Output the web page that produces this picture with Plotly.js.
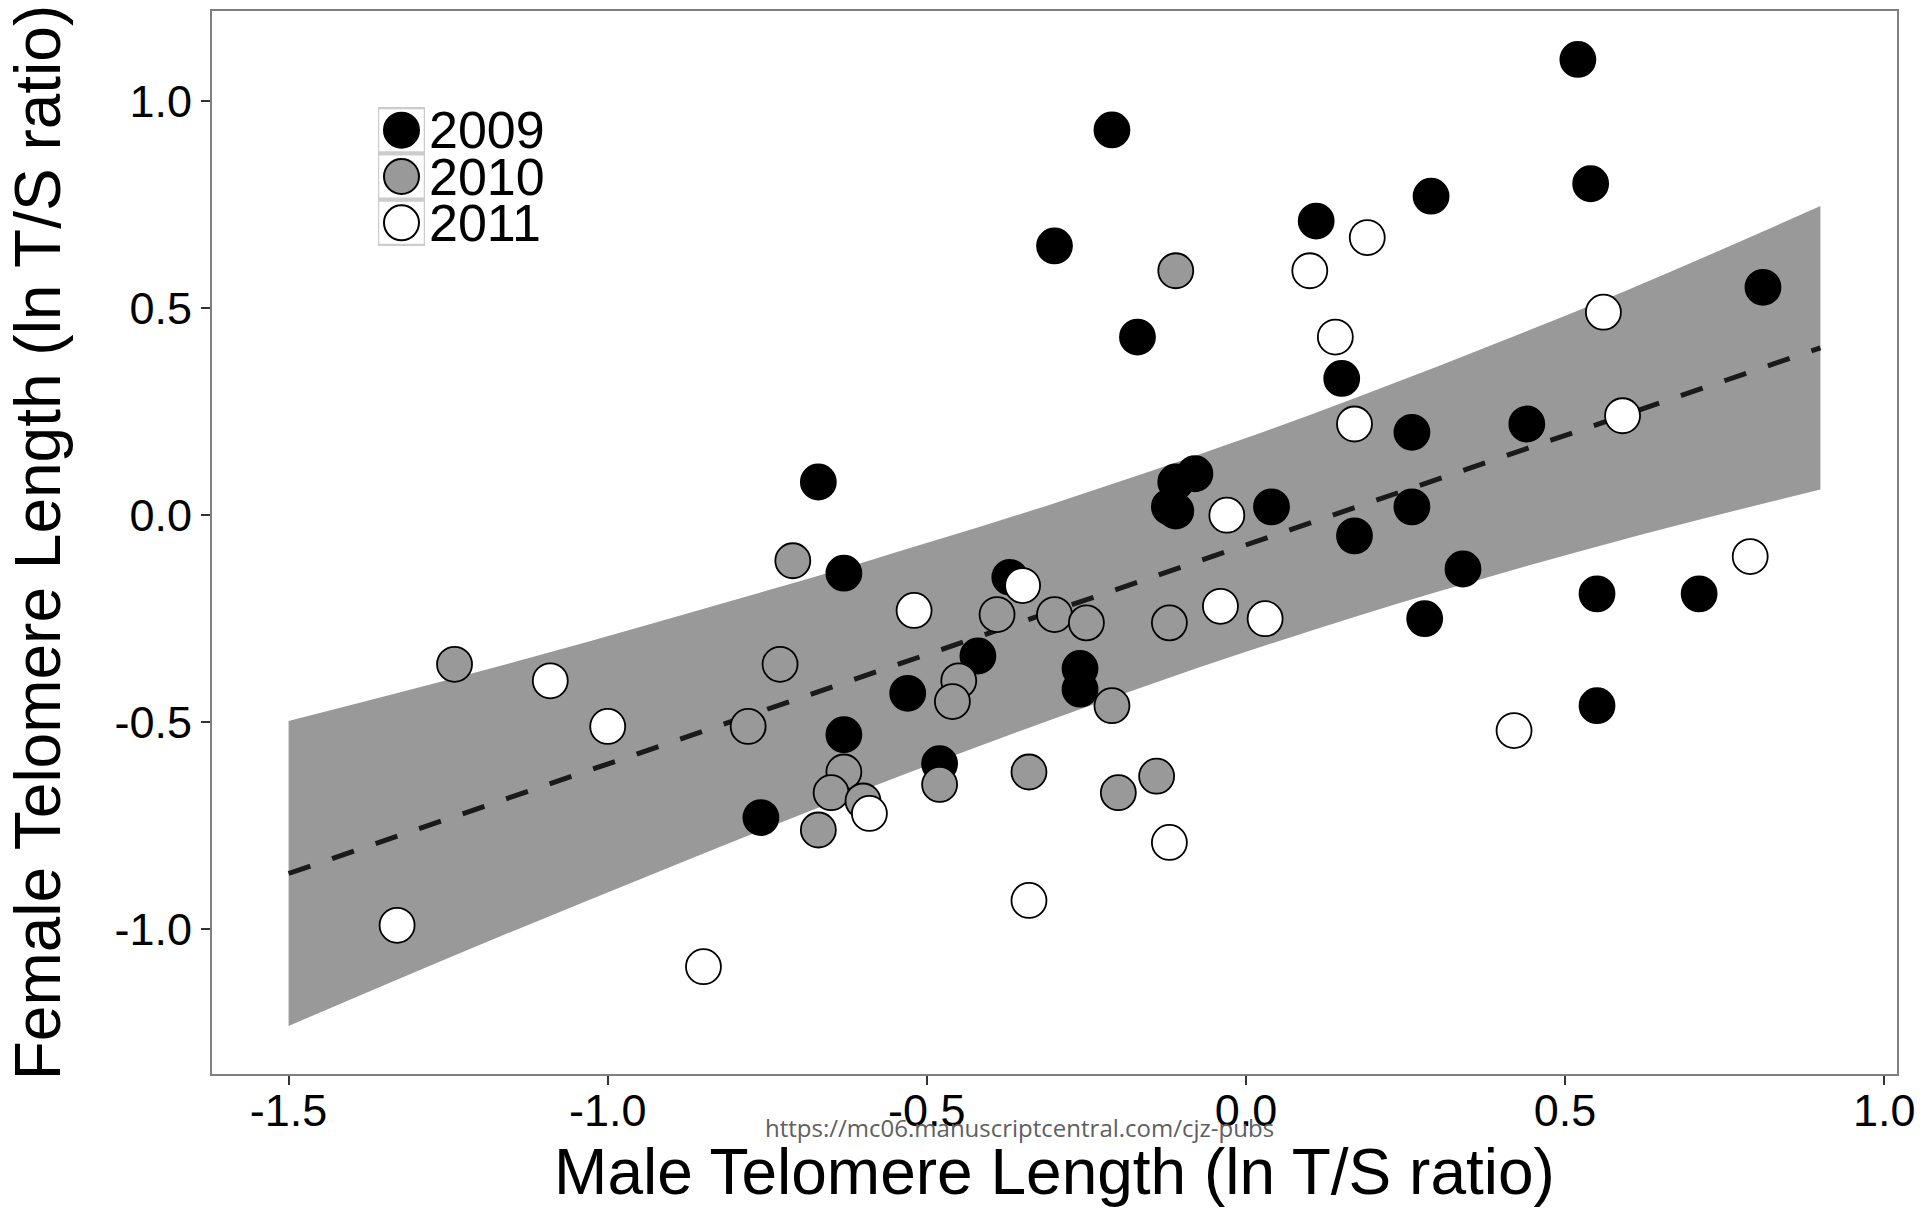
<!DOCTYPE html>
<html>
<head>
<meta charset="utf-8">
<script src="https://cdn.plot.ly/plotly-3.0.1.min.js"></script>
<style>
  html, body { margin: 0; padding: 0; background: #ffffff; }
  #chart { width: 1925px; height: 1211px; }
</style>
</head>
<body>
<div id="chart"></div>
<script>
// ---------------- data ----------------
const years = ['2009', '2010', '2011'];

const male2009 = [0.52, -0.21, 0.54, 0.29, 0.11, -0.30, 0.81, -0.17, 0.15, 0.44, 0.26, -0.67, -0.08, -0.11, -0.12, -0.11, 0.04, 0.26, 0.17, -0.63, -0.37, 0.34, 0.55, 0.71, 0.28, -0.42, -0.26, -0.26, -0.53, 0.55, -0.63, -0.48, -0.76];
const female2009 = [1.10, 0.93, 0.80, 0.77, 0.71, 0.65, 0.55, 0.43, 0.33, 0.22, 0.20, 0.08, 0.10, 0.08, 0.02, 0.01, 0.02, 0.02, -0.05, -0.14, -0.15, -0.13, -0.19, -0.19, -0.25, -0.34, -0.37, -0.42, -0.43, -0.46, -0.53, -0.60, -0.73];

const male2010 = [-0.11, -0.71, -1.24, -0.73, -0.39, -0.30, -0.25, -0.12, -0.45, -0.46, -0.78, -0.21, -0.63, -0.65, -0.60, -0.48, -0.34, -0.14, -0.20, -0.67];
const female2010 = [0.59, -0.11, -0.36, -0.36, -0.24, -0.24, -0.26, -0.26, -0.40, -0.45, -0.51, -0.46, -0.62, -0.67, -0.69, -0.65, -0.62, -0.63, -0.67, -0.76];

const male2011 = [0.19, 0.10, 0.14, 0.56, 0.59, 0.17, -0.03, 0.79, -0.35, -0.52, -0.04, 0.03, -1.09, -1.00, -0.59, -0.12, 0.42, -0.34, -1.33, -0.85];
const female2011 = [0.67, 0.59, 0.43, 0.49, 0.24, 0.22, 0.00, -0.10, -0.17, -0.23, -0.22, -0.25, -0.40, -0.51, -0.72, -0.79, -0.52, -0.93, -0.99, -1.09];

// fitted line and its confidence band
const fitX = [-1.5, 0.9];
const fitY = [-0.865, 0.404];
const bandX = [-1.5, -1.2, -0.9, -0.6, -0.3, 0.0, 0.3, 0.6, 0.9];
const bandUpper = [-0.497, -0.377, -0.248, -0.114, 0.029, 0.186, 0.359, 0.545, 0.746];
const bandLower = [-1.233, -1.037, -0.848, -0.664, -0.491, -0.330, -0.185, -0.055, 0.062];

// axis ticks
const xTickVals = [-1.5, -1.0, -0.5, 0.0, 0.5, 1.0];
const xTickText = ['-1.5', '-1.0', '-0.5', '0.0', '0.5', '1.0'];
const yTickVals = [-1.0, -0.5, 0.0, 0.5, 1.0];
const yTickText = ['-1.0', '-0.5', '0.0', '0.5', '1.0'];

// ---------------- styles ----------------
const FONT = '"Liberation Sans", Arial, Helvetica, sans-serif';
const fills = { '2009': '#000000', '2010': '#999999', '2011': '#ffffff' };
const seriesX = { '2009': male2009, '2010': male2010, '2011': male2011 };
const seriesY = { '2009': female2009, '2010': female2010, '2011': female2011 };
const MS = 35;

const traces = [];

// confidence band
traces.push({
  x: bandX, y: bandLower, type: 'scatter', mode: 'lines',
  line: { width: 0, shape: 'spline', color: '#999999' },
  hoverinfo: 'skip', showlegend: false
});
traces.push({
  x: bandX, y: bandUpper, type: 'scatter', mode: 'lines',
  line: { width: 0, shape: 'spline', color: '#999999' },
  fill: 'tonexty', fillcolor: '#999999',
  hoverinfo: 'skip', showlegend: false
});

// regression line
traces.push({
  x: fitX, y: fitY, type: 'scatter', mode: 'lines',
  line: { color: '#1a1a1a', width: 5, dash: '23px,23px' },
  hoverinfo: 'skip', showlegend: false
});

// points
years.forEach(yr => {
  traces.push({
    x: seriesX[yr], y: seriesY[yr], type: 'scatter', mode: 'markers',
    name: yr, showlegend: false,
    marker: { size: MS, color: fills[yr], line: { color: '#000000', width: 1.8 } }
  });
});

// custom legend keys (on their own hidden axes)
traces.push({
  x: years.map(() => 0), y: years.map((_, i) => i),
  xaxis: 'x2', yaxis: 'y2', type: 'scatter', mode: 'markers',
  marker: { size: MS, color: years.map(yr => fills[yr]), line: { color: '#000000', width: 2 } },
  cliponaxis: false, hoverinfo: 'skip', showlegend: false
});

const shapes = years.map((_, i) => ({
  type: 'rect', xref: 'x2', yref: 'y2',
  x0: -0.5, x1: 0.5, y0: i - 0.48, y1: i + 0.48,
  line: { color: '#cccccc', width: 2.5 }, fillcolor: 'rgba(0,0,0,0)', layer: 'above'
}));

const annotations = years.map((yr, i) => ({
  xref: 'x2', yref: 'y2', x: 0.5, y: i, text: yr,
  xanchor: 'left', yanchor: 'middle', showarrow: false, xshift: 3,
  height: 40, borderpad: 0,
  font: { family: FONT, size: 52, color: '#000000' }
}));

annotations.push({
  xref: 'paper', yref: 'paper', x: 0.479, y: -0.05,
  xanchor: 'center', yanchor: 'middle', showarrow: false,
  text: 'https://mc06.manuscriptcentral.com/cjz-pubs',
  font: { family: '"Open Sans", sans-serif', size: 24, color: '#606060' }
});

const layout = {
  width: 1925, height: 1211,
  margin: { l: 212, r: 28, t: 11, b: 137 },
  paper_bgcolor: '#ffffff', plot_bgcolor: '#ffffff',
  font: { family: FONT, color: '#000000' },
  showlegend: false,
  xaxis: {
    range: [-1.62, 1.02], showgrid: false, zeroline: false,
    tickmode: 'array', tickvals: xTickVals, ticktext: xTickText,
    ticks: 'outside', ticklen: 9, tickwidth: 2, tickcolor: '#333333',
    ticklabelstandoff: -13,
    tickfont: { family: FONT, size: 45, color: '#000000' },
    showline: true, mirror: true, linecolor: '#7f7f7f', linewidth: 2,
    title: { text: 'Male Telomere Length (ln T/S ratio)', font: { family: FONT, size: 64, color: '#000000' }, standoff: 0 }
  },
  yaxis: {
    range: [-1.349, 1.217], showgrid: false, zeroline: false,
    tickmode: 'array', tickvals: yTickVals, ticktext: yTickText,
    ticks: 'outside', ticklen: 9, tickwidth: 2, tickcolor: '#333333',
    tickfont: { family: FONT, size: 45, color: '#000000' },
    showline: true, mirror: true, linecolor: '#7f7f7f', linewidth: 2,
    title: { text: 'Female Telomere Length (ln T/S ratio)', font: { family: FONT, size: 64, color: '#000000' }, standoff: 33 }
  },
  xaxis2: { domain: [0.0985, 0.1264], range: [-0.5, 0.5], visible: false, anchor: 'y2', fixedrange: true },
  yaxis2: { domain: [0.7789, 0.9097], range: [2.5, -0.5], visible: false, anchor: 'x2', fixedrange: true },
  shapes: shapes,
  annotations: annotations
};

Plotly.newPlot('chart', traces, layout, { displayModeBar: false, staticPlot: true });
</script>
</body>
</html>
